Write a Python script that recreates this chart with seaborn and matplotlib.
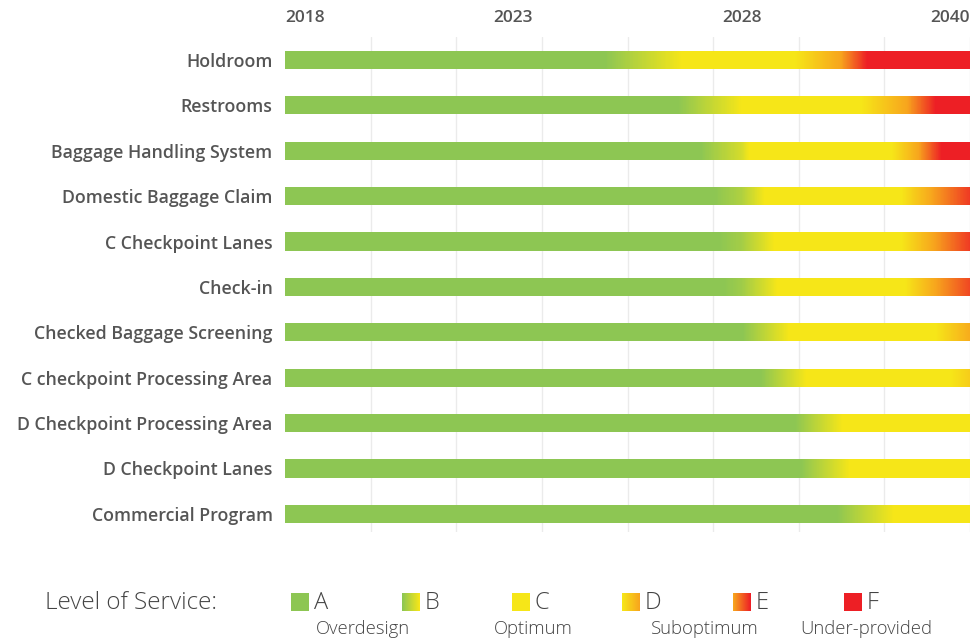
import numpy as np
import matplotlib
matplotlib.use("Agg")
import matplotlib.pyplot as plt
import seaborn as sns

# ---- data -----------------------------------------------------------------
facilities = [
    "Holdroom",
    "Restrooms",
    "Baggage Handling System",
    "Domestic Baggage Claim",
    "C Checkpoint Lanes",
    "Check-in",
    "Checked Baggage Screening",
    "C checkpoint Processing Area",
    "D Checkpoint Processing Area",
    "D Checkpoint Lanes",
    "Commercial Program",
]

# year at which each facility leaves LOS A, reaches C, leaves C,
# reaches the orange D/E boundary and reaches F (NaN = not reached by 2040)
year_a_end = [2025.0, 2026.6, 2027.1, 2027.4, 2027.5, 2027.6, 2028.05, 2029.0, 2030.8, 2031.1, 2033.0]
year_c_start = [2026.7, 2028.0, 2028.4, 2029.2, 2029.7, 2029.9, 2030.5, 2031.4, 2033.3, 2033.7, 2036.0]
year_c_end = [2030.8, 2034.3, 2035.9, 2036.4, 2036.4, 2036.6, 2038.2, 2039.0, np.nan, np.nan, np.nan]
year_de = [2033.2, 2036.7, 2037.3, 2038.0, 2038.1, 2038.2, np.nan, np.nan, np.nan, np.nan, np.nan]
year_f = [2034.6, 2038.2, 2038.5, np.nan, np.nan, np.nan, np.nan, np.nan, np.nan, np.nan, np.nan]
# service level in 2040 on a 0 (A) .. 1 (C) .. 2 (D/E) .. 3 (F) scale
level_2040 = [3.0, 3.0, 3.0, 2.8, 2.8, 2.7, 1.9, 1.4, 1.0, 1.0, 1.0]

year_ticks = [2018, 2023, 2028, 2040]

los_letters = ["A", "B", "C", "D", "E", "F"]
los_ranges = [(0, 0), (0, 1), (1, 1), (1, 2), (2, 3), (3, 3)]
los_groups = ["Overdesign", "Optimum", "Suboptimum", "Under-provided"]

los_colors = ["#8DC653", "#F6E618", "#F7A51D", "#ED1F25"]

# ---- style ----------------------------------------------------------------
sns.set_style("white")
plt.rcParams["font.family"] = ["Open Sans", "DejaVu Sans"]
label_color = "#555555"
cmap = sns.blend_palette(los_colors, as_cmap=True)


def to_pos(y):
    y = np.asarray(y, dtype=float)
    return np.where(y <= 2028, (y - 2018) / 5.0, 2.0 + (y - 2028) / 12.0)


def to_year(p):
    p = np.asarray(p, dtype=float)
    return np.where(p <= 2, 2018 + 5.0 * p, 2028 + 12.0 * (p - 2))


fig = plt.figure(figsize=(9.74, 6.38), dpi=100)
W, H = 974.0, 638.0
ax = fig.add_axes([285 / W, 1 - 532 / H, 685 / W, (532 - 37.3) / H])
ax.set_xscale("function", functions=(to_pos, to_year))
ax.set_xlim(2018, 2040)
ax.set_ylim(10.4, -0.5)

# faint vertical guides
for k in range(1, 9):
    ax.axvline(float(to_year(k * 3 / 8)), color="#ebebeb", lw=1.0, zorder=0)

# gradient bars
bar_h = 0.4
edges = np.linspace(2018, 2040, 881)
mids = 0.5 * (edges[:-1] + edges[1:])
for i, name in enumerate(facilities):
    xs = [2018, year_a_end[i], year_c_start[i]]
    ls = [0, 0, 1]
    for yr, lv in ((year_c_end[i], 1), (year_de[i], 2), (year_f[i], 3)):
        if not np.isnan(yr):
            xs.append(yr)
            ls.append(lv)
    xs.append(2040)
    ls.append(level_2040[i])
    lev = np.interp(mids, xs, ls)
    ax.pcolormesh(edges, [i - bar_h / 2, i + bar_h / 2], lev[None, :],
                  cmap=cmap, vmin=0, vmax=3, shading="flat", zorder=2,
                  antialiased=False, edgecolor="none")

ax.set_yticks(range(len(facilities)))
ax.set_yticklabels(facilities, fontsize=12.8, color=label_color, fontweight="semibold")
ax.xaxis.tick_top()
ax.set_xticks(year_ticks)
ax.set_xticklabels([str(t) for t in year_ticks], fontsize=12.5, color=label_color,
                   fontweight="semibold")
ax.xaxis.set_minor_locator(matplotlib.ticker.NullLocator())
labels = ax.get_xticklabels()
labels[0].set_horizontalalignment("left")
labels[-1].set_horizontalalignment("right")
ax.tick_params(axis="y", length=0, pad=9)
ax.tick_params(axis="x", length=0, pad=8)
ax.grid(False)
for s in ax.spines.values():
    s.set_visible(False)

# ---- legend ---------------------------------------------------------------
lg = fig.add_axes([0, 0, 1, 1])
lg.set_xlim(0, W)
lg.set_ylim(H, 0)
lg.axis("off")
legend_color = "#444444"
lg.text(45, 603, "Level of Service:", fontsize=17.5, fontweight="light",
        color=legend_color, va="center", ha="left")
sw_x = [291, 402, 512, 622, 733, 844]
for x0, letter, (lo, hi) in zip(sw_x, los_letters, los_ranges):
    ex = np.linspace(x0, x0 + 18, 19)
    vals = np.linspace(lo, hi, 18)
    lg.pcolormesh(ex, [593, 611], vals[None, :], cmap=cmap, vmin=0, vmax=3,
                  shading="flat", antialiased=False, edgecolor="none")
    lg.text(x0 + 23, 603, letter, fontsize=17, fontweight="light",
            color=legend_color, va="center", ha="left")
for cx, grp in zip([363, 533, 705, 866], los_groups):
    lg.text(cx, 629, grp, fontsize=13.3, fontweight="light", color=legend_color,
            va="center", ha="center")

fig.savefig("out.png", dpi=100, facecolor="white")
